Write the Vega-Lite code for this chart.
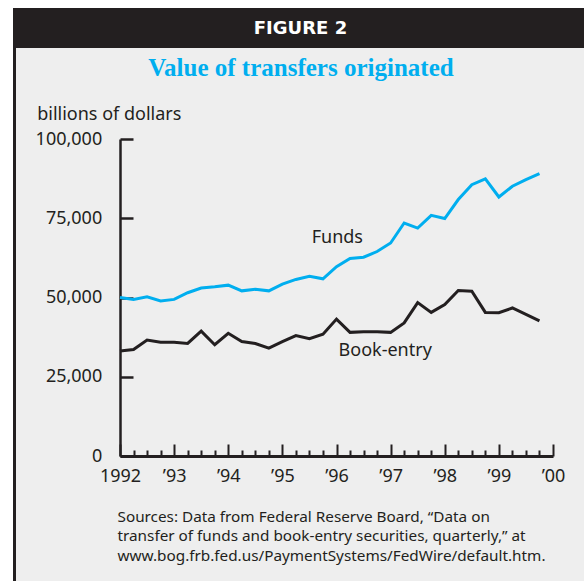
{
  "$schema": "https://vega.github.io/schema/vega-lite/v6.json",
  "background": "white",
  "padding": {"left": 13, "top": 8, "right": 0, "bottom": 0},
  "spacing": 0,
  "config": {"view": {"stroke": null}, "concat": {"spacing": 0}},
  "vconcat": [
    {
      "width": 571,
      "height": 40,
      "view": {"fill": "#231f20", "stroke": null},
      "data": {"values": [{"label": "FIGURE 2"}]},
      "mark": {"type": "text", "color": "white", "font": "DejaVu Sans", "fontWeight": "bold", "fontSize": 18, "dx": 2, "dy": 1},
      "encoding": {"text": {"field": "label"}}
    },
    {
      "spacing": 0,
      "hconcat": [
        {
          "width": 3,
          "height": 533,
          "view": {"fill": "#231f20", "stroke": null},
          "data": {"values": [{"k": 1}]},
          "mark": {"type": "rect", "color": "#231f20"},
          "encoding": {}
        },
        {
          "width": 568,
          "height": 533,
          "view": {"fill": "#eeeeee", "stroke": null},
          "resolve": {"axis": {"x": "independent"}},
          "layer": [
            {
              "data": {"values": [
                {"t": 1992.0, "series": "Funds", "value": 50000},
                {"t": 1992.25, "series": "Funds", "value": 49400},
                {"t": 1992.5, "series": "Funds", "value": 50200},
                {"t": 1992.75, "series": "Funds", "value": 48900},
                {"t": 1993.0, "series": "Funds", "value": 49400},
                {"t": 1993.25, "series": "Funds", "value": 51500},
                {"t": 1993.5, "series": "Funds", "value": 53000},
                {"t": 1993.75, "series": "Funds", "value": 53400},
                {"t": 1994.0, "series": "Funds", "value": 53900},
                {"t": 1994.25, "series": "Funds", "value": 52100},
                {"t": 1994.5, "series": "Funds", "value": 52600},
                {"t": 1994.75, "series": "Funds", "value": 52100},
                {"t": 1995.0, "series": "Funds", "value": 54200},
                {"t": 1995.25, "series": "Funds", "value": 55700},
                {"t": 1995.5, "series": "Funds", "value": 56700},
                {"t": 1995.75, "series": "Funds", "value": 55900},
                {"t": 1996.0, "series": "Funds", "value": 59700},
                {"t": 1996.25, "series": "Funds", "value": 62300},
                {"t": 1996.5, "series": "Funds", "value": 62700},
                {"t": 1996.75, "series": "Funds", "value": 64500},
                {"t": 1997.0, "series": "Funds", "value": 67200},
                {"t": 1997.25, "series": "Funds", "value": 73500},
                {"t": 1997.5, "series": "Funds", "value": 71900},
                {"t": 1997.75, "series": "Funds", "value": 75900},
                {"t": 1998.0, "series": "Funds", "value": 74900},
                {"t": 1998.25, "series": "Funds", "value": 80900},
                {"t": 1998.5, "series": "Funds", "value": 85600},
                {"t": 1998.75, "series": "Funds", "value": 87400},
                {"t": 1999.0, "series": "Funds", "value": 81700},
                {"t": 1999.25, "series": "Funds", "value": 85100},
                {"t": 1999.5, "series": "Funds", "value": 87200},
                {"t": 1999.75, "series": "Funds", "value": 89100},
                {"t": 1992.0, "series": "Book-entry", "value": 33100},
                {"t": 1992.25, "series": "Book-entry", "value": 33600},
                {"t": 1992.5, "series": "Book-entry", "value": 36600},
                {"t": 1992.75, "series": "Book-entry", "value": 35900},
                {"t": 1993.0, "series": "Book-entry", "value": 35900},
                {"t": 1993.25, "series": "Book-entry", "value": 35500},
                {"t": 1993.5, "series": "Book-entry", "value": 39400},
                {"t": 1993.75, "series": "Book-entry", "value": 35100},
                {"t": 1994.0, "series": "Book-entry", "value": 38700},
                {"t": 1994.25, "series": "Book-entry", "value": 36100},
                {"t": 1994.5, "series": "Book-entry", "value": 35500},
                {"t": 1994.75, "series": "Book-entry", "value": 34000},
                {"t": 1995.0, "series": "Book-entry", "value": 36100},
                {"t": 1995.25, "series": "Book-entry", "value": 38000},
                {"t": 1995.5, "series": "Book-entry", "value": 37000},
                {"t": 1995.75, "series": "Book-entry", "value": 38400},
                {"t": 1996.0, "series": "Book-entry", "value": 43200},
                {"t": 1996.25, "series": "Book-entry", "value": 39000},
                {"t": 1996.5, "series": "Book-entry", "value": 39200},
                {"t": 1996.75, "series": "Book-entry", "value": 39200},
                {"t": 1997.0, "series": "Book-entry", "value": 39000},
                {"t": 1997.25, "series": "Book-entry", "value": 42000},
                {"t": 1997.5, "series": "Book-entry", "value": 48400},
                {"t": 1997.75, "series": "Book-entry", "value": 45300},
                {"t": 1998.0, "series": "Book-entry", "value": 47800},
                {"t": 1998.25, "series": "Book-entry", "value": 52200},
                {"t": 1998.5, "series": "Book-entry", "value": 52000},
                {"t": 1998.75, "series": "Book-entry", "value": 45300},
                {"t": 1999.0, "series": "Book-entry", "value": 45200},
                {"t": 1999.25, "series": "Book-entry", "value": 46700},
                {"t": 1999.5, "series": "Book-entry", "value": 44700},
                {"t": 1999.75, "series": "Book-entry", "value": 42600}
              ]},
              "mark": {"type": "line", "strokeWidth": 3, "strokeJoin": "miter"},
              "encoding": {
                "x": {
                  "field": "t", "type": "quantitative",
                  "scale": {"domain": [1992, 2000], "range": [104, 537], "nice": false, "zero": false},
                  "axis": {
                    "orient": "bottom", "offset": -125,
                    "values": [1992, 1993, 1994, 1995, 1996, 1997, 1998, 1999, 2000],
                    "labelExpr": "datum.value === 1992 ? '1992' : '’' + substring(toString(datum.value), 2, 4)",
                    "labelFlush": false, "labelOverlap": false, "grid": false,
                    "domainColor": "#231f20", "domainWidth": 3,
                    "tickColor": "#231f20", "tickWidth": 2, "tickSize": -12,
                    "labelFont": "Noto Sans", "labelFontSize": 18, "labelColor": "#231f20", "labelPadding": 23.5,
                    "title": ["Sources: Data from Federal Reserve Board, “Data on", "transfer of funds and book-entry securities, quarterly,” at", "www.bog.frb.fed.us/PaymentSystems/FedWire/default.htm."],
                    "titleFont": "Noto Sans", "titleFontSize": 15.3, "titleFontWeight": "normal", "titleColor": "#231f20",
                    "titleAlign": "left", "titleAnchor": "start", "titleBaseline": "alphabetic",
                    "titleX": 101, "titleY": 65, "titleLineHeight": 19.5
                  }
                },
                "y": {
                  "field": "value", "type": "quantitative",
                  "scale": {"domain": [0, 100000], "range": [408, 91], "nice": false},
                  "axis": {
                    "orient": "left", "offset": -104,
                    "values": [0, 25000, 50000, 75000, 100000], "format": ",d", "grid": false,
                    "domainColor": "#231f20", "domainWidth": 2.5,
                    "tickColor": "#231f20", "tickWidth": 2.5, "tickSize": -13,
                    "labelFont": "Noto Sans", "labelFontSize": 18, "labelColor": "#231f20", "labelPadding": 31.3, "labelFlush": false,
                    "title": "billions of dollars", "titleFont": "Noto Sans", "titleFontSize": 18, "titleFontWeight": "normal", "titleColor": "#231f20",
                    "titleAngle": 0, "titleAlign": "left", "titleBaseline": "alphabetic", "titleX": -83.3, "titleY": 71
                  }
                },
                "color": {
                  "field": "series", "type": "nominal",
                  "scale": {"domain": ["Funds", "Book-entry"], "range": ["#00aeef", "#231f20"]},
                  "legend": null
                }
              }
            },
            {
              "data": {"values": [
                {"t": 1996.015, "value": 67300, "label": "Funds"},
                {"t": 1996.9, "value": 31550, "label": "Book-entry"}
              ]},
              "mark": {"type": "text", "font": "Noto Sans", "fontSize": 18, "color": "#231f20", "align": "center", "baseline": "alphabetic"},
              "encoding": {
                "x": {
                  "field": "t", "type": "quantitative",
                  "axis": {
                    "orient": "bottom", "offset": -125,
                    "values": [1992.25, 1992.5, 1992.75, 1993.25, 1993.5, 1993.75, 1994.25, 1994.5, 1994.75, 1995.25, 1995.5, 1995.75, 1996.25, 1996.5, 1996.75, 1997.25, 1997.5, 1997.75, 1998.25, 1998.5, 1998.75, 1999.25, 1999.5, 1999.75],
                    "labels": false, "domain": false, "grid": false,
                    "tickColor": "#231f20", "tickWidth": 2, "tickSize": -6,
                    "title": "Value of transfers originated",
                    "titleFont": "Liberation Serif", "titleFontSize": 25, "titleFontWeight": "bold", "titleColor": "#00aeef",
                    "titleAlign": "center", "titleAnchor": "middle", "titleBaseline": "alphabetic",
                    "titleX": 284.5, "titleY": -381
                  }
                },
                "y": {
                  "field": "value", "type": "quantitative",
                  "axis": {
                    "orient": "left", "offset": -104,
                    "values": [0, 25000, 50000, 75000, 100000], "format": ",d", "grid": false,
                    "domainColor": "#231f20", "domainWidth": 2.5,
                    "tickColor": "#231f20", "tickWidth": 2.5, "tickSize": -13,
                    "labelFont": "Noto Sans", "labelFontSize": 18, "labelColor": "#231f20", "labelPadding": 31.3, "labelFlush": false,
                    "title": "billions of dollars", "titleFont": "Noto Sans", "titleFontSize": 18, "titleFontWeight": "normal", "titleColor": "#231f20",
                    "titleAngle": 0, "titleAlign": "left", "titleBaseline": "alphabetic", "titleX": -83.3, "titleY": 71
                  }
                },
                "text": {"field": "label"}
              }
            }
          ]
        }
      ]
    }
  ]
}
